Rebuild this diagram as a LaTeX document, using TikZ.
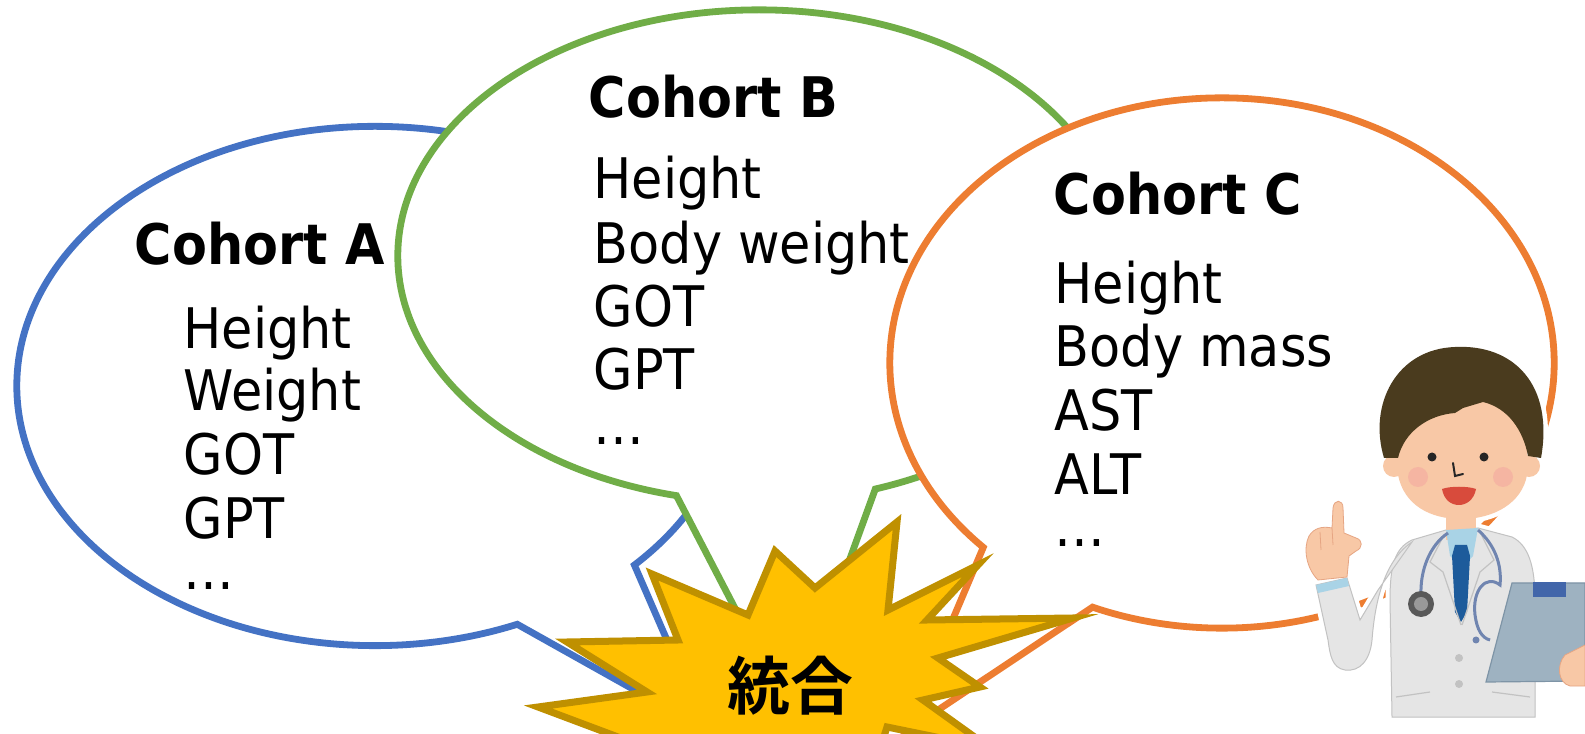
\documentclass[tikz,border=0pt]{standalone}
\usepackage{fontspec}
\setmainfont{DejaVu Sans}[FakeStretch=0.91]
\newfontfamily\jpfont{Noto Sans CJK JP}[UprightFont=* Bold]
\usetikzlibrary{shapes.callouts}

\definecolor{blueA}{HTML}{4472C4}
\definecolor{greenB}{HTML}{70AD47}
\definecolor{orangeC}{HTML}{ED7D31}
\definecolor{starfill}{HTML}{FFC000}
\definecolor{starline}{HTML}{BF9000}
\definecolor{hair}{HTML}{4A3B1E}
\definecolor{skin}{HTML}{F8C8A6}
\definecolor{skinline}{HTML}{E6A583}
\definecolor{coat}{HTML}{E5E5E5}
\definecolor{coatline}{HTML}{C2C2C2}
\definecolor{shirt}{HTML}{A9D3E6}
\definecolor{tie}{HTML}{1D5B9B}
\definecolor{steth}{HTML}{7085B0}
\definecolor{board}{HTML}{9EB2C1}
\definecolor{boardline}{HTML}{7E94A6}
\definecolor{boardclip}{HTML}{4266AA}
\definecolor{mouth}{HTML}{D84B3C}
\definecolor{cheek}{HTML}{F3A79F}

\begin{document}
\begin{tikzpicture}[x=0.01cm, y=-0.01cm]
  % Define style for bubbles and their text
  \tikzstyle{bubble} = [ellipse callout, fill=white, line width=.068cm, inner sep=0pt, outer sep=0pt]
  \tikzstyle{title} = [anchor=base west, inner sep=0pt, font=\fontsize{15.9}{18}\selectfont\bfseries]
  \tikzstyle{item} = [anchor=base west, inner sep=0pt, font=\fontsize{15.9}{18}\selectfont]

  \useasboundingbox (0,0) rectangle (1585,734);

  % Cohort A
  \node(bubA)[bubble, draw=blueA, minimum width=7.16cm, minimum height=5.19cm,
    callout absolute pointer={(706,730)}, callout pointer arc=23] at (375,386) {};
  \node(titleA)[title] at (134,265) {Cohort A};
  \foreach \txt/\yy [count=\i] in {Height/349,Weight/411,GOT/475,GPT/539,\dots/590}
    \node(itemA\i)[item] at (183,\yy) {\txt};

  % Cohort B
  \node(bubB)[bubble, draw=greenB, minimum width=7.22cm, minimum height=4.92cm,
    callout absolute pointer={(792,718)}, callout pointer arc=32] at (759,256) {};
  \node(titleB)[title] at (588,118) {Cohort B};
  \foreach \txt/\yy [count=\i] in {Height/199,Body weight/264,GOT/327,GPT/390,\dots/445}
    \node(itemB\i)[item] at (593,\yy) {\txt};

  % Cohort C
  \node(bubC)[bubble, draw=orangeC, minimum width=6.64cm, minimum height=5.30cm,
    callout absolute pointer={(905,732)}, callout pointer arc=23] at (1222,363) {};
  \node(titleC)[title] at (1053,215) {Cohort C};
  \foreach \txt/\yy [count=\i] in {Height/304,Body mass/367,AST/431,ALT/495,\dots/547}
    \node(itemC\i)[item] at (1054,\yy) {\txt};

  % Burst in the middle
  \draw[starline, fill=starfill, line width=.07cm, line join=miter]
    (538,707) -- (647,692) -- (567,642) -- (678,640) -- (652,574) -- (748,615)
    -- (775,551) -- (815,588) -- (897,522) -- (888,610) -- (978,565) -- (927,620)
    -- (1073,618) -- (938,658) -- (980,687) -- (923,700) -- (990,748) -- (887,727)
    -- (870,780) -- (706,770) -- cycle;
  \node(merge) at (790,686) {\fontsize{17.9}{20}\selectfont\jpfont 統合};

  % Doctor
  \def\hairpath{(1384,458) .. controls (1368,405) and (1396,349) .. (1455,347)
    .. controls (1514,344) and (1554,385) .. (1541,458) -- (1528,456)
    .. controls (1523,430) and (1508,408) .. (1483,402) -- (1463,408) -- (1455,413)
    .. controls (1428,415) and (1404,432) .. (1398,458) -- cycle}
  \def\facepath{(1398,400) -- (1398,475) .. controls (1404,505) and (1430,519) .. (1461,519)
    .. controls (1494,519) and (1522,503) .. (1527,475) -- (1528,400) -- cycle}
  \def\coatpath{(1446,530) -- (1412,540) .. controls (1395,548) and (1390,565) .. (1390,600)
    -- (1392,717) -- (1535,717) -- (1535,600) .. controls (1535,565) and (1528,545) .. (1512,537)
    -- (1478,528) -- cycle}
  \def\armpath{(1412,542) .. controls (1385,560) and (1375,600) .. (1372,640)
    .. controls (1370,660) and (1360,672) .. (1345,670) .. controls (1332,668) and (1330,655) .. (1328,640)
    -- (1316,585) -- (1347,578) -- (1360,620) -- (1378,590) -- cycle}
  \def\handpath{(1318,580) .. controls (1306,568) and (1303,548) .. (1309,536)
    .. controls (1314,528) and (1322,526) .. (1332,528) -- (1333,508)
    .. controls (1334,499) and (1343,499) .. (1343,508) -- (1344,533) -- (1356,538)
    .. controls (1363,540) and (1363,548) .. (1356,551) -- (1349,556) -- (1347,577) -- cycle}
  \def\boardpath{(1512,583) -- (1585,583) -- (1585,681) -- (1486,682) -- cycle}

  % white outline round the figure
  \foreach \p in {\hairpath,\facepath,\coatpath,\armpath,\handpath,\boardpath}
    \filldraw[white, line width=.09cm, line join=round] \p;
  \filldraw[white, line width=.09cm] (1394,466) circle[radius=11] (1529,466) circle[radius=11];

  \filldraw[fill=coat, draw=coatline, line width=.01cm] \coatpath;
  \filldraw[fill=coat, draw=coatline, line width=.01cm] \armpath;
  \filldraw[fill=skin, draw=skinline, line width=.008cm] \handpath;
  \draw[skinline, line width=.008cm] (1332,528) -- (1333,545) (1320,532) -- (1321,550);
  \fill[shirt] (1316,585) -- (1347,578) -- (1349,586) -- (1318,593) -- cycle;
  \fill[skin] (1446,508) rectangle (1476,540);
  \fill[shirt] (1446,530) -- (1478,528) -- (1473,556) -- (1462,568) -- (1450,556) -- cycle;
  \fill[tie] (1455,545) -- (1467,545) -- (1470,556) -- (1467,612) -- (1461,622)
    -- (1455,612) -- (1452,556) -- cycle;
  \draw[coatline, line width=.012cm] (1444,535) -- (1430,562) -- (1443,572) -- (1461,625)
    (1480,532) -- (1494,560) -- (1480,572) -- (1462,625);
  \draw[coatline, line width=.012cm] (1396,697) -- (1430,692) (1492,692) -- (1530,697);
  \fill[coatline] (1459,658) circle[radius=4] (1459,684) circle[radius=4];

  % head
  \fill[skin] (1394,466) circle[radius=11] (1529,466) circle[radius=11];
  \fill[skin] \facepath;
  \fill[hair] \hairpath;
  \fill[cheek, opacity=.55] (1418,477) circle[radius=10] (1503,477) circle[radius=10];
  \fill[black!85] (1432,457) circle[radius=4.5] (1484,457) circle[radius=4.5];
  \draw[black!85, line width=.02cm, line cap=round] (1453,463) -- (1455,476) -- (1463,474);
  \fill[mouth] (1442,489) .. controls (1450,486) and (1468,486) .. (1476,489)
    .. controls (1474,500) and (1466,505) .. (1459,505)
    .. controls (1451,505) and (1444,500) .. cycle;

  % stethoscope
  \draw[steth, line width=.03cm] (1448,533) .. controls (1430,545) and (1420,570) .. (1421,595);
  \fill[black!65] (1421,604) circle[radius=13];
  \fill[black!40] (1421,604) circle[radius=7];
  \draw[steth, line width=.03cm] (1478,530) .. controls (1495,545) and (1502,565) .. (1500,585)
    .. controls (1486,574) and (1472,590) .. (1475,615) .. controls (1477,630) and (1482,638) .. (1490,640);
  \fill[steth] (1476,640) circle[radius=3.5];

  % clipboard and hand
  \filldraw[fill=board, draw=boardline, line width=.012cm] \boardpath;
  \fill[boardclip] (1533,582) rectangle (1566,597);
  \filldraw[fill=skin, draw=skinline, line width=.008cm] (1585,645) -- (1585,686) -- (1570,686)
    .. controls (1558,683) and (1556,665) .. (1565,655) -- cycle;
\end{tikzpicture}
\end{document}
